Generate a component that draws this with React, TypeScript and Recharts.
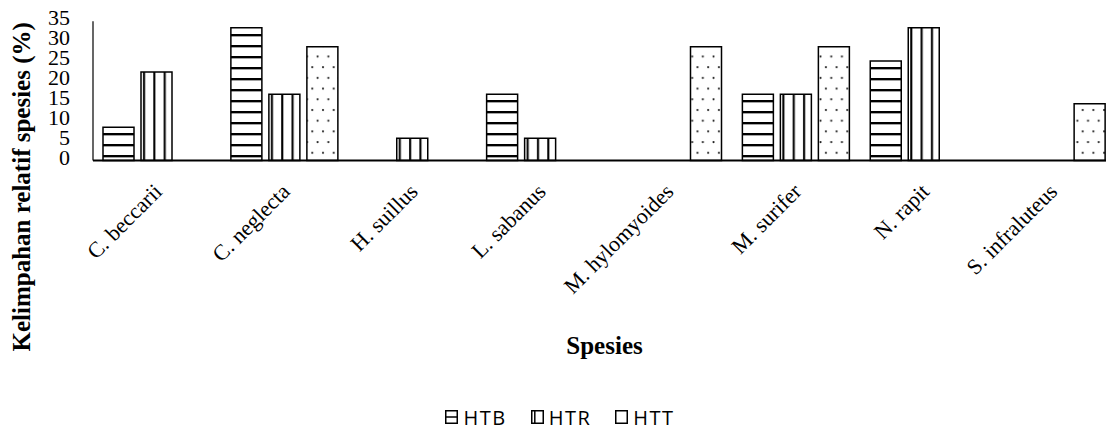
import React from 'react';
import { BarChart, Bar, XAxis, YAxis, Legend } from 'recharts';

const species = ['C. beccarii', 'C. neglecta', 'H. suillus', 'L. sabanus', 'M. hylomyoides', 'M. surifer', 'N. rapit', 'S. infraluteus'];
const htb = [8.33, 33.33, 0, 16.67, 0, 16.67, 25, 0];
const htr = [22.22, 16.67, 5.56, 5.56, 0, 16.67, 33.33, 0];
const htt = [0, 28.57, 0, 0, 28.57, 28.57, 0, 14.29];
const yTicks = [0, 5, 10, 15, 20, 25, 30, 35];
const seriesNames = ['HTB', 'HTR', 'HTT'];

const data = species.map((name, i) => ({ name, HTB: htb[i], HTR: htr[i], HTT: htt[i] }));

const SERIF = '"Liberation Serif", "Times New Roman", serif';

const XTick = (props: any) => {
  const { x, y, payload } = props;
  return (
    <text x={x + 1} y={y} transform={`rotate(-45 ${x + 1} ${y})`} textAnchor="end" dy="0.35em"
      fontFamily={SERIF} fontSize={22} fill="#000">{payload.value}</text>
  );
};

const YTick = (props: any) => {
  const { x, y, payload } = props;
  return (
    <text x={x} y={y} textAnchor="end" dy={4} fontFamily={SERIF} fontSize={22} fill="#000">{payload.value}</text>
  );
};

const Swatch = ({ name }: { name: string }) => (
  <svg width={13} height={14} style={{ display: 'block' }}>
    <rect x={0.75} y={0.75} width={11.5} height={12.5} fill="#fff" stroke="#000" strokeWidth={1.5} />
    {name === 'HTB' && <line x1={0.75} x2={12.25} y1={7} y2={7} stroke="#000" strokeWidth={1.5} />}
    {name === 'HTR' && <line x1={3.8} x2={3.8} y1={0.75} y2={13.25} stroke="#000" strokeWidth={1.5} />}
  </svg>
);

const LegendContent = (props: any) => {
  const items = (props.payload && props.payload.length ? props.payload.map((p: any) => p.value) : seriesNames);
  return (
    <div style={{ display: 'flex', justifyContent: 'center', alignItems: 'center', height: 24, fontFamily: '"Open Sans", sans-serif', fontSize: 20, color: '#000' }}>
      {items.map((n: string, i: number) => (
        <div key={n} style={{ display: 'flex', alignItems: 'center', marginRight: i < items.length - 1 ? 24 : 0 }}>
          <Swatch name={n} />
          <span style={{ marginLeft: 5, letterSpacing: 1.5 }}>{n}</span>
        </div>
      ))}
    </div>
  );
};

export default function App() {
  return (
    <div style={{ position: 'fixed', left: 0, top: 0, width: 1106, height: 429, overflow: 'hidden', background: '#fff' }}>
      <BarChart width={1120} height={429} data={data} margin={{ top: 21.2, right: 4, left: 33, bottom: 0 }}
        barSize={31} barGap={7}>
        <defs>
          <pattern id="pHTB" patternUnits="userSpaceOnUse" x={0} y={0} width={10} height={11}>
            <rect width={10} height={11} fill="#fff" />
            <rect x={0} y={1} width={10} height={2.2} fill="#000" />
            <rect x={0} y={3.2} width={10} height={0.8} fill="#999" />
          </pattern>
          <pattern id="pHTR" patternUnits="objectBoundingBox" x={0} y={0} width={0.3333} height={1}>
            <rect width={20} height={1000} fill="#fff" />
            <rect x={2} y={0} width={1.8} height={1000} fill="#000" />
            <rect x={3.8} y={0} width={0.8} height={1000} fill="#999" />
          </pattern>
          <pattern id="pHTT" patternUnits="userSpaceOnUse" x={0} y={0} width={10.7} height={21.4}>
            <rect width={10.7} height={21.4} fill="#fff" />
            <circle cx={2} cy={3} r={1.1} fill="#222" />
            <circle cx={7.35} cy={13.7} r={1.1} fill="#222" />
          </pattern>
        </defs>
        <XAxis dataKey="name" interval={0} tickLine={false} tickSize={0} tickMargin={27} height={244.5}
          axisLine={{ stroke: '#000', strokeWidth: 1.8 }} tick={<XTick />}
          label={{
            content: (p: any) => {
              const vb = p.viewBox || { x: 93, y: 160.5, width: 1023 };
              return <text x={vb.x + vb.width / 2} y={vb.y + 193.5} textAnchor="middle" fontFamily={SERIF} fontWeight="bold" fontSize={25} fill="#000">Spesies</text>;
            },
          }} />
        <YAxis domain={[0, 35]} ticks={yTicks} interval={0} width={60} tickLine={false} tickSize={0} tickMargin={23}
          axisLine={{ stroke: '#000', strokeWidth: 1.2 }} tick={<YTick />}
          label={{
            content: (p: any) => {
              const vb = p.viewBox || { x: 33, y: 21.2, width: 60, height: 139.3 };
              const cx = vb.x - 3;
              const cy = vb.y + vb.height / 2 + 96;
              return <text x={cx} y={cy} transform={`rotate(-90 ${cx} ${cy})`} textAnchor="middle" fontFamily={SERIF} fontWeight="bold" fontSize={25} fill="#000">Kelimpahan relatif spesies (%)</text>;
            },
          }} />
        <Legend verticalAlign="bottom" content={<LegendContent />} wrapperStyle={{ left: 0, width: 1120 }} />
        <Bar dataKey="HTB" name="HTB" fill="url(#pHTB)" stroke="#000" strokeWidth={1.5} isAnimationActive={false} />
        <Bar dataKey="HTR" name="HTR" fill="url(#pHTR)" stroke="#000" strokeWidth={1.5} isAnimationActive={false} />
        <Bar dataKey="HTT" name="HTT" fill="url(#pHTT)" stroke="#000" strokeWidth={1.5} isAnimationActive={false} />
      </BarChart>
    </div>
  );
}
